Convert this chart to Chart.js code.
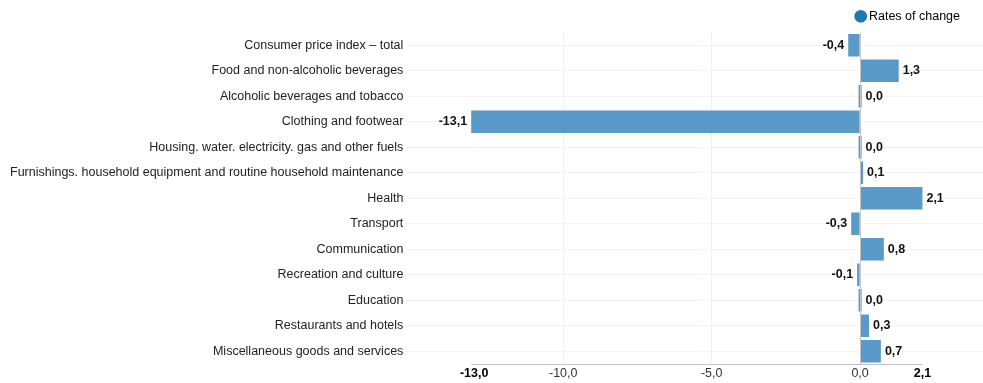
<!DOCTYPE html>
<html>
<head>
<meta charset="utf-8">
<script src="https://cdn.jsdelivr.net/npm/chart.js@4/dist/chart.umd.min.js"></script>
<style>
  html, body { margin: 0; padding: 0; background: #fff; }
  #wrap { width: 983px; height: 383px; }
</style>
</head>
<body>
<div id="wrap"><canvas id="cpiChart"></canvas></div>
<script>
const categories = [
  "Consumer price index \u2013 total",
  "Food and non-alcoholic beverages",
  "Alcoholic beverages and tobacco",
  "Clothing and footwear",
  "Housing. water. electricity. gas and other fuels",
  "Furnishings. household equipment and routine household maintenance",
  "Health",
  "Transport",
  "Communication",
  "Recreation and culture",
  "Education",
  "Restaurants and hotels",
  "Miscellaneous goods and services",
];
const ratesOfChange = [-0.4, 1.3, 0.0, -13.1, 0.0, 0.1, 2.1, -0.3, 0.8, -0.1, 0.0, 0.3, 0.7];
const xTicks = [-13.0, -10.0, -5.0, 0.0, 2.1];
const xMin = -15.15;
const xMax = 4.14;

const fontFamily = "'Liberation Sans', Arial, sans-serif";
const fmt = (v) => v.toFixed(1).replace(".", ",");
const edgeTick = (v) => v === xTicks[0] || v === xTicks[xTicks.length - 1];

// value labels at the end of each bar
const barLabels = {
  id: "barLabels",
  afterDatasetsDraw(chart) {
    const ctx = chart.ctx;
    const meta = chart.getDatasetMeta(0);
    ctx.save();
    ctx.font = "bold 12.5px " + fontFamily;
    ctx.fillStyle = "#111";
    ctx.textBaseline = "middle";
    meta.data.forEach((bar, i) => {
      const v = ratesOfChange[i];
      if (v < 0) {
        ctx.textAlign = "right";
        ctx.fillText(fmt(v), Math.min(bar.x, bar.base) - 4, bar.y);
      } else {
        ctx.textAlign = "left";
        ctx.fillText(fmt(v), Math.max(bar.x, bar.base) + 4, bar.y);
      }
    });
    ctx.restore();
  },
};

// zero line over the bars, bottom axis line only between min and max, legend nudged in
const axisLines = {
  id: "axisLines",
  afterLayout(chart) {
    if (chart.legend) {
      chart.legend.left -= 13;
      chart.legend.right -= 13;
    }
  },
  afterDraw(chart) {
    const x = chart.scales.x;
    const area = chart.chartArea;
    const ctx = chart.ctx;
    const y = area.bottom + 0.5;
    const x0 = Math.round(x.getPixelForValue(0)) + 0.5;
    ctx.save();
    ctx.strokeStyle = "#c4c4c4";
    ctx.lineWidth = 1;
    ctx.beginPath();
    ctx.moveTo(x0, area.top);
    ctx.lineTo(x0, area.bottom);
    ctx.moveTo(x.getPixelForValue(-13.1), y);
    ctx.lineTo(x.getPixelForValue(xTicks[xTicks.length - 1]), y);
    ctx.stroke();
    ctx.restore();
  },
};

const ctx = document.getElementById("cpiChart").getContext("2d");

new Chart(ctx, {
  type: "bar",
  data: {
    labels: categories,
    datasets: [
      {
        label: "Rates of change",
        data: ratesOfChange,
        backgroundColor: "#5a9ac8",
        borderWidth: 0,
        barPercentage: 0.88,
        categoryPercentage: 1,
        minBarLength: 3,
      },
    ],
  },
  options: {
    indexAxis: "y",
    responsive: true,
    maintainAspectRatio: false,
    animation: false,
    layout: {
      padding: { left: 8, right: 0, top: 0, bottom: 0 },
    },
    scales: {
      x: {
        min: xMin,
        max: xMax,
        afterBuildTicks: (scale) => {
          scale.ticks = xTicks.map((v) => ({ value: v }));
        },
        grid: {
          drawTicks: false,
          color: (c) => {
            const v = c.tick && c.tick.value;
            if (v === 0 || edgeTick(v)) return "rgba(0,0,0,0)";
            return "#f0f0f0";
          },
        },
        border: { display: false },
        ticks: {
          padding: 2,
          autoSkip: false,
          maxRotation: 0,
          color: (c) => (edgeTick(c.tick.value) ? "#000" : "#333"),
          font: (c) => ({
            family: fontFamily,
            size: 12.5,
            weight: c.tick && edgeTick(c.tick.value) ? "bold" : "normal",
          }),
          callback: (value) => fmt(value),
        },
      },
      y: {
        grid: {
          offset: false,
          color: "#f3f3f3",
          drawTicks: true,
          tickLength: 5,
        },
        border: { display: false },
        ticks: {
          padding: 2,
          color: "#222",
          font: { family: fontFamily, size: 12.5 },
        },
      },
    },
    plugins: {
      legend: {
        position: "top",
        align: "end",
        labels: {
          usePointStyle: true,
          pointStyle: "circle",
          boxWidth: 4,
          boxHeight: 9,
          padding: 10,
          color: "#222",
          font: { family: fontFamily, size: 12.5 },
          generateLabels: (chart) => [
            {
              text: chart.data.datasets[0].label,
              fillStyle: "#1f77b4",
              strokeStyle: "#1f77b4",
              lineWidth: 0,
              pointStyle: "circle",
              datasetIndex: 0,
            },
          ],
        },
      },
      tooltip: { enabled: false },
    },
  },
  plugins: [barLabels, axisLines],
});
</script>
</body>
</html>
